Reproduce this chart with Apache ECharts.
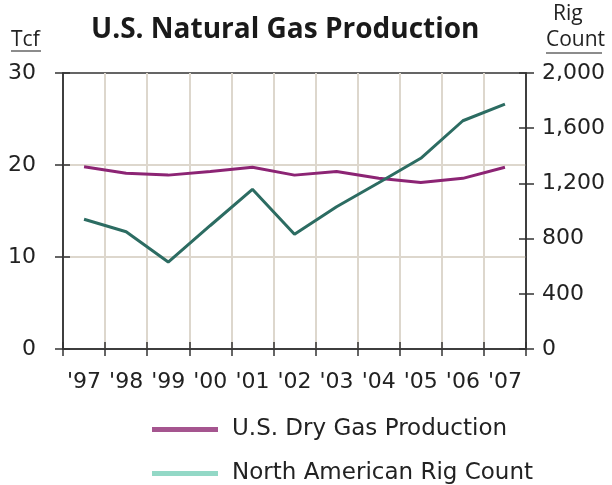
<!DOCTYPE html>
<html>
<head>
<meta charset="utf-8">
<script src="https://cdn.jsdelivr.net/npm/echarts@6/dist/echarts.min.js"></script>
<style>
  html, body { margin: 0; padding: 0; background: #fff; }
  #chart { width: 612px; height: 485px; }
</style>
</head>
<body>
<div id="chart"></div>
<script>
// years along the bottom
const years = ["'97", "'98", "'99", "'00", "'01", "'02", "'03", "'04", "'05", "'06", "'07"];
// U.S. dry gas production, Tcf (left axis)
const gasProduction = [19.8, 19.1, 18.9, 19.3, 19.75, 18.9, 19.3, 18.55, 18.1, 18.55, 19.75];
// North American rig count (right axis)
const rigCount = [940, 850, 630, 895, 1157, 831, 1031, 1205, 1382, 1654, 1775];
const tcfTicks = { min: 0, max: 30, interval: 10 };
const rigTicks = { min: 0, max: 2000, interval: 400 };

const font = '"Open Sans", "DejaVu Sans", sans-serif';
const labelFont = '"DejaVu Sans", sans-serif';
const axisColor = '#333';
const gridColor = '#ddd7cd';
const tickStyle = { color: axisColor, width: 1.5 };

// one legend block per row
function legendRow(name, color, top) {
  return {
    left: 147,
    top: top,
    icon: 'rect',
    itemWidth: 66,
    itemHeight: 5,
    textStyle: { fontFamily: labelFont, fontSize: 23, color: '#222', padding: [0, 0, 0, 9] },
    data: [{ name: name, itemStyle: { color: color } }]
  };
}

let myChart = echarts.init(document.getElementById('chart'));
myChart.setOption({
  animation: false,
  textStyle: { fontFamily: labelFont },
  title: {
    text: 'U.S. Natural Gas Production',
    left: 86,
    top: 11,
    textStyle: { fontFamily: font, fontWeight: 'bold', fontSize: 28, color: '#1a1a1a' }
  },
  grid: {
    left: 63, right: 86, top: 73, bottom: 136,
    show: true, borderColor: axisColor, borderWidth: 1.5, backgroundColor: 'transparent'
  },
  legend: [
    legendRow('U.S. Dry Gas Production', '#a5558f', 413),
    legendRow('North American Rig Count', '#93d8c6', 457)
  ],
  graphic: [
    { type: 'text', left: 11, top: 30, style: { text: 'Tcf', font: '21px ' + font, fill: '#222' } },
    { type: 'line', shape: { x1: 11, y1: 51, x2: 41, y2: 51 }, style: { stroke: '#666', lineWidth: 1.5 } },
    { type: 'text', left: 553, top: 4, style: { text: 'Rig', font: '21px ' + font, fill: '#222' } },
    { type: 'text', left: 546, top: 30, style: { text: 'Count', font: '21px ' + font, fill: '#222' } },
    { type: 'line', shape: { x1: 546, y1: 53, x2: 602, y2: 53 }, style: { stroke: '#666', lineWidth: 1.5 } }
  ],
  xAxis: [{
    type: 'category',
    data: years,
    position: 'bottom',
    boundaryGap: true,
    axisLine: { onZero: false, lineStyle: { color: axisColor, width: 1.5 } },
    axisTick: { show: false },
    axisLabel: { fontSize: 22, color: '#222', margin: 22, interval: 0 },
    splitLine: { show: true, showMinLine: false, showMaxLine: false, lineStyle: { color: gridColor, width: 2 } }
  }, {
    // ticks crossing the bottom axis
    type: 'category',
    data: years,
    position: 'bottom',
    offset: -7,
    boundaryGap: true,
    axisLine: { show: false, onZero: false },
    axisTick: { show: true, length: 14, lineStyle: tickStyle },
    axisLabel: { show: false },
    splitLine: { show: false }
  }],
  yAxis: [{
    type: 'value',
    position: 'left',
    min: tcfTicks.min, max: tcfTicks.max, interval: tcfTicks.interval,
    axisLine: { show: true, onZero: false, lineStyle: { color: axisColor, width: 1.5 } },
    axisTick: { show: true, length: 8, lineStyle: tickStyle },
    axisLabel: { fontSize: 22, color: '#222', margin: 27 },
    splitLine: { show: true, showMinLine: false, showMaxLine: false, lineStyle: { color: gridColor, width: 2 } }
  }, {
    type: 'value',
    position: 'right',
    min: rigTicks.min, max: rigTicks.max, interval: rigTicks.interval,
    axisLine: { show: true, onZero: false, lineStyle: { color: axisColor, width: 1.5 } },
    axisTick: { show: true, length: 8, lineStyle: tickStyle },
    axisLabel: { fontSize: 22, color: '#222', margin: 16, formatter: v => v.toLocaleString('en-US') },
    splitLine: { show: false }
  }, {
    // ticks crossing the left axis
    type: 'value',
    position: 'left',
    offset: -7,
    min: tcfTicks.min, max: tcfTicks.max, interval: tcfTicks.interval,
    axisLine: { show: false, onZero: false },
    axisTick: { show: true, length: 15, lineStyle: tickStyle },
    axisLabel: { show: false },
    splitLine: { show: false }
  }, {
    // ticks crossing the right axis
    type: 'value',
    position: 'right',
    offset: -7,
    min: rigTicks.min, max: rigTicks.max, interval: rigTicks.interval,
    axisLine: { show: false, onZero: false },
    axisTick: { show: true, length: 15, lineStyle: tickStyle },
    axisLabel: { show: false },
    splitLine: { show: false }
  }],
  series: [{
    name: 'U.S. Dry Gas Production',
    type: 'line',
    xAxisIndex: 0,
    yAxisIndex: 0,
    data: gasProduction,
    showSymbol: false,
    color: '#8c2474',
    lineStyle: { color: '#8c2474', width: 3 }
  }, {
    name: 'North American Rig Count',
    type: 'line',
    xAxisIndex: 0,
    yAxisIndex: 1,
    data: rigCount,
    showSymbol: false,
    color: '#2c6c62',
    lineStyle: { color: '#2c6c62', width: 3 }
  }]
});
</script>
</body>
</html>
